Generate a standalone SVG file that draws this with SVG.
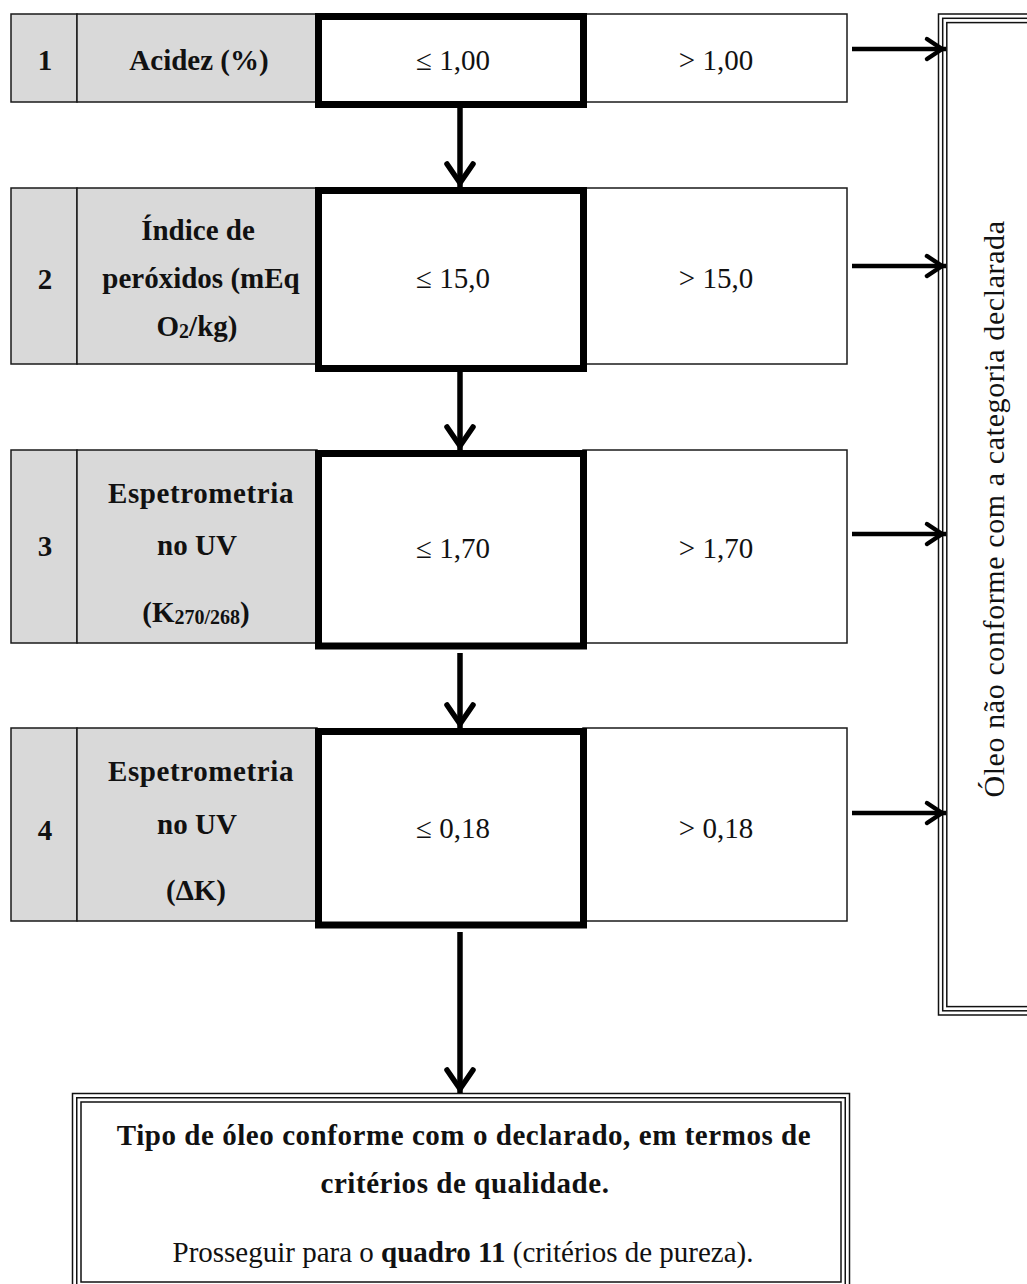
<svg xmlns="http://www.w3.org/2000/svg" width="1027" height="1284" viewBox="0 0 1027 1284">
<style>
  .txt { font-family: "Liberation Serif", "Times New Roman", serif; font-size: 29px; fill: #111; text-anchor: middle; }
  .b { font-weight: bold; }
  .gray { fill: #d9d9d9; stroke: #1a1a1a; stroke-width: 1.5; }
  .thin { fill: #ffffff; stroke: #1a1a1a; stroke-width: 1.5; }
  .thick { fill: #ffffff; stroke: #000; stroke-width: 7; }
  .tri { fill: none; stroke: #111; stroke-width: 1.5; }
  .conn { stroke: #000; fill: none; }
  .v { stroke-width: 5.5; marker-end: url(#chevV); }
  .h { stroke-width: 4.5; marker-end: url(#chevH); }
  .sub { font-size: 20px; }
</style>
<defs>
  <marker id="chevV" viewBox="-30 -16 34 32" refX="0" refY="0" markerWidth="34" markerHeight="32" markerUnits="userSpaceOnUse" orient="auto" overflow="visible">
    <path d="M-23,-13 L-4,0 L-23,13" fill="none" stroke="#000" stroke-width="5.5" stroke-linecap="round" stroke-linejoin="miter"/>
  </marker>
  <marker id="chevH" viewBox="-30 -16 34 32" refX="0" refY="0" markerWidth="34" markerHeight="32" markerUnits="userSpaceOnUse" orient="auto" overflow="visible">
    <path d="M-19,-10 L-4,0 L-19,10" fill="none" stroke="#000" stroke-width="4.5" stroke-linecap="round" stroke-linejoin="miter"/>
  </marker>
</defs>
<rect x="0" y="0" width="1027" height="1284" fill="#ffffff"/>

<!-- Row 1 -->
<g id="row1-num">
  <rect class="gray" x="11" y="14" width="66" height="88"/>
  <text class="txt b" x="45" y="70">1</text>
</g>
<g id="row1-label">
  <rect class="gray" x="77" y="14" width="240" height="88"/>
  <text class="txt b" x="199" y="70">Acidez (%)</text>
</g>
<g id="row1-fail">
  <rect class="thin" x="583" y="14" width="264" height="88"/>
  <text class="txt" x="716" y="70">&gt; 1,00</text>
</g>
<g id="row1-pass">
  <rect class="thick" x="318.5" y="16.5" width="265" height="88"/>
  <text class="txt" x="453" y="70">≤ 1,00</text>
</g>

<!-- Row 2 -->
<g id="row2-num">
  <rect class="gray" x="11" y="188" width="66" height="176"/>
  <text class="txt b" x="45" y="289">2</text>
</g>
<g id="row2-label">
  <rect class="gray" x="77" y="188" width="240" height="176"/>
  <text class="txt b" x="198" y="240">Índice de</text>
  <text class="txt b" x="201" y="288">peróxidos (mEq</text>
  <text class="txt b" x="197" y="336">O<tspan class="sub" dy="2">2</tspan><tspan dy="-2">/kg)</tspan></text>
</g>
<g id="row2-fail">
  <rect class="thin" x="583" y="188" width="264" height="176"/>
  <text class="txt" x="716" y="288">&gt; 15,0</text>
</g>
<g id="row2-pass">
  <rect class="thick" x="318.5" y="190.5" width="265" height="178"/>
  <text class="txt" x="453" y="288">≤ 15,0</text>
</g>

<!-- Row 3 -->
<g id="row3-num">
  <rect class="gray" x="11" y="450" width="66" height="193"/>
  <text class="txt b" x="45" y="556">3</text>
</g>
<g id="row3-label">
  <rect class="gray" x="77" y="450" width="240" height="193"/>
  <text class="txt b" x="201" y="503" letter-spacing="0.6">Espetrometria</text>
  <text class="txt b" x="197" y="555">no UV</text>
  <text class="txt b" x="196" y="622">(K<tspan class="sub" dy="2">270/268</tspan><tspan dy="-2">)</tspan></text>
</g>
<g id="row3-fail">
  <rect class="thin" x="583" y="450" width="264" height="193"/>
  <text class="txt" x="716" y="558">&gt; 1,70</text>
</g>
<g id="row3-pass">
  <rect class="thick" x="318.5" y="453.5" width="265" height="192.5"/>
  <text class="txt" x="453" y="558">≤ 1,70</text>
</g>

<!-- Row 4 -->
<g id="row4-num">
  <rect class="gray" x="11" y="728" width="66" height="193"/>
  <text class="txt b" x="45" y="840">4</text>
</g>
<g id="row4-label">
  <rect class="gray" x="77" y="728" width="240" height="193"/>
  <text class="txt b" x="201" y="781" letter-spacing="0.6">Espetrometria</text>
  <text class="txt b" x="197" y="834">no UV</text>
  <text class="txt b" x="196" y="900">(ΔK)</text>
</g>
<g id="row4-fail">
  <rect class="thin" x="583" y="728" width="264" height="193"/>
  <text class="txt" x="716" y="838">&gt; 0,18</text>
</g>
<g id="row4-pass">
  <rect class="thick" x="318.5" y="731.5" width="265" height="193.5"/>
  <text class="txt" x="453" y="838">≤ 0,18</text>
</g>

<!-- Right: non-conforming -->
<g id="nonconform">
  <rect class="tri" x="938.5" y="14" width="120" height="1001"/>
  <rect class="tri" x="942.7" y="18.3" width="120" height="992.5"/>
  <rect class="tri" x="946.8" y="22.6" width="120" height="984"/>
  <text class="txt" font-size="30" transform="translate(1004,509) rotate(-90)" style="font-size:30px" letter-spacing="0.6">Óleo não conforme com a categoria declarada</text>
</g>

<!-- Bottom: conforming -->
<g id="conform">
  <rect class="tri" x="72.5" y="1093.5" width="777" height="197"/>
  <rect class="tri" x="76.75" y="1097.75" width="768.5" height="188.5"/>
  <rect class="tri" x="81" y="1102" width="760" height="180"/>
  <text class="txt b" x="464" y="1145" letter-spacing="0.55">Tipo de óleo conforme com o declarado, em termos de</text>
  <text class="txt b" x="465" y="1193" letter-spacing="0.55">critérios de qualidade.</text>
  <text class="txt" x="463" y="1262">Prosseguir para o <tspan class="b">quadro 11</tspan> (critérios de pureza).</text>
</g>

<!-- Connectors -->
<g id="connectors">
  <line class="conn v" x1="460" y1="108" x2="460" y2="187"/>
  <line class="conn v" x1="460" y1="372" x2="460" y2="450"/>
  <line class="conn v" x1="460" y1="653" x2="460" y2="728"/>
  <line class="conn v" x1="460" y1="932" x2="460" y2="1093"/>
  <line class="conn h" x1="852" y1="49" x2="946" y2="49"/>
  <line class="conn h" x1="852" y1="266" x2="946" y2="266"/>
  <line class="conn h" x1="852" y1="534" x2="946" y2="534"/>
  <line class="conn h" x1="852" y1="813" x2="946" y2="813"/>
</g>
</svg>
